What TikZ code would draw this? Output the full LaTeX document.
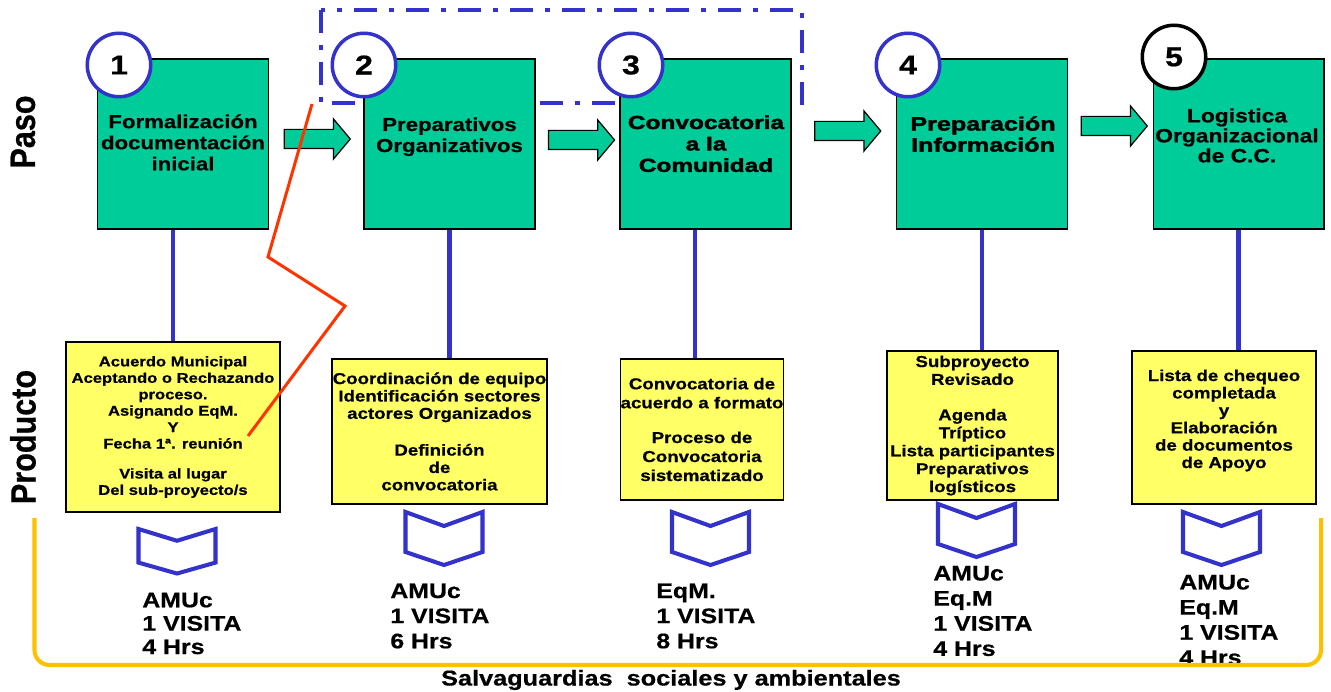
\documentclass[tikz,border=0pt]{standalone}
\usepackage{fontspec}
\setmainfont{Liberation Sans}[FakeStretch=1.18, BoldFeatures={FakeBold=0.6}]
\newfontfamily\heavyfont{Liberation Sans}[FakeStretch=1.3, BoldFeatures={FakeBold=2.2}]
\newfontfamily\sidefont{Liberation Sans}[FakeStretch=0.87, BoldFeatures={FakeBold=0.6}]
\usepackage{xcolor}
\definecolor{stepgreen}{RGB}{0,204,153}
\definecolor{prodyellow}{RGB}{255,255,102}
\definecolor{linkblue}{RGB}{51,51,204}
\definecolor{markred}{RGB}{255,51,0}
\definecolor{bracegold}{RGB}{255,192,0}
\usepackage{tikz}
\usetikzlibrary{arrows.meta, calc, shapes.arrows}

\tikzset{
  stepbox/.style={draw=black, line width=0.6pt, fill=stepgreen,
    minimum width=3.42cm, minimum height=3.4cm, inner sep=0pt},
  steptext/.style={anchor=north, align=center, inner sep=0pt,
    font=\fontsize{10.7}{12}\selectfont\bfseries},
  stepnum/.style={circle, draw=linkblue, line width=2pt, fill=white,
    minimum size=1.27cm, inner sep=0pt, font=\fontsize{15.5}{15.5}\selectfont\bfseries},
  prodbox/.style={draw=black, line width=0.9pt, fill=prodyellow, align=center,
    inner sep=0pt, font=\fontsize{9}{10.2}\selectfont\bfseries},
  flowarrow/.style={single arrow, draw=black, line width=0.7pt, fill=stepgreen,
    minimum height=1.32cm, inner xsep=0pt, inner ysep=0.18cm,
    single arrow head extend=0.21cm, single arrow tip angle=100},
  link/.style={draw=linkblue, line width=2.6pt},
  chevline/.style={draw=linkblue, line width=2.3pt, line join=miter},
  costtext/.style={anchor=west, align=left, inner sep=0pt,
    font=\fontsize{12}{14.3}\selectfont\bfseries},
  sidelabel/.style={rotate=90, inner sep=0pt, font=\fontsize{20}{20}\sidefont\bfseries},
  chevron/.pic={
    \draw[chevline] (-38.5,0) -- (-38.5,40) -- (0,53) -- (38.5,40) -- (38.5,0) -- (0,14) -- cycle;
  }
}

\begin{document}
\begin{tikzpicture}[x=0.02cm, y=-0.02cm]
  \useasboundingbox (0,0) rectangle (1331,692);
  % frame round steps 2 and 3
  \draw[linkblue, line width=1.8pt, dash pattern=on 0.46cm off 0.24cm on 0.1cm off 0.24cm]
    (321,10) rectangle (802,103);

  % steps
  \node[stepbox] (s1) at (183,144) {};
  \node[stepbox] (s2) at (449.5,144) {};
  \node[stepbox] (s3) at (705.5,144) {};
  \node[stepbox] (s4) at (982,144) {};
  \node[stepbox] (s5) at (1238.5,144) {};
  \node[steptext] at (183,114) {Formalización\\documentación\\inicial};
  \node[steptext] at (449.5,117) {Preparativos\\Organizativos};
  \node[steptext, font=\fontsize{10.7}{12.2}\heavyfont\bfseries] at (706,115)
    {Convocatoria\\a la\\Comunidad};
  \node[steptext, font=\fontsize{11}{12}\heavyfont\bfseries] at (983,116)
    {Preparación\\Información};
  \node[steptext, font=\fontsize{11}{11.4}\selectfont\bfseries] at (1237,108)
    {Logistica\\Organizacional\\de C.C.};

  \node[stepnum] (n1) at (119,65) {1};
  \node[stepnum] (n2) at (364,65) {2};
  \node[stepnum] (n3) at (631,65) {3};
  \node[stepnum] (n4) at (908,65) {4};
  \node[stepnum, draw=black] (n5) at (1174,57) {5};

  \node[flowarrow] (a1) at ($(s1.east)!0.5!(s2.west)+(-3,-5)$) {};
  \node[flowarrow] (a2) at ($(s2.east)!0.5!(s3.west)+(0,-4)$) {};
  \node[flowarrow] (a3) at ($(s3.east)!0.5!(s4.west)+(0,-13)$) {};
  \node[flowarrow] (a4) at ($(s4.east)!0.5!(s5.west)+(0,-18)$) {};

  % products
  \node[prodbox, font=\fontsize{8}{9.35}\selectfont\bfseries,
    minimum width=4.28cm, minimum height=3.4cm] (p1) at (173,427)
    {Acuerdo Municipal\\Aceptando o Rechazando\\proceso.\\Asignando EqM.\\Y\\Fecha 1ª. reunión\\[7.7pt]Visita al lugar\\Del sub-proyecto/s};
  \node[prodbox, font=\fontsize{9}{9.9}\selectfont\bfseries,
    minimum width=4.3cm, minimum height=2.9cm] (p2) at (439.5,431.5)
    {Coordinación de equipo\\Identificación sectores\\actores Organizados\\[11pt]Definición\\de\\convocatoria};
  \node[prodbox, font=\fontsize{9}{10.8}\selectfont\bfseries,
    minimum width=3.24cm, minimum height=2.82cm] (p3) at (702,429.5)
    {Convocatoria de\\acuerdo a formato\\[9pt]Proceso de\\Convocatoria\\sistematizado};
  \node[prodbox, minimum width=3.42cm, minimum height=2.98cm] (p4) at (972.5,425.5)
    {Subproyecto\\Revisado\\[10pt]Agenda\\Tríptico\\Lista participantes\\Preparativos\\logísticos};
  \node[prodbox, font=\fontsize{9}{9.9}\selectfont\bfseries,
    minimum width=3.68cm, minimum height=3.06cm] (p5) at (1224,427.5)
    {Lista de chequeo\\completada\\y\\Elaboración\\de documentos\\de Apoyo\\\mbox{}};

  \draw[link] (p1.north) -- (p1.north |- s1.south);
  \draw[link] (s2.south) -- (s2.south |- p2.north);
  \draw[link] ([xshift=-0.21cm]s3.south) -- ([xshift=-0.21cm]s3.south |- p3.north);
  \draw[link] (s4.south) -- (s4.south |- p4.north);
  \draw[link] (s5.south) -- (s5.south |- p5.north);

  \pic[yscale=0.84] at (177,529) {chevron};
  \pic at (444,512) {chevron};
  \pic at (710.5,512) {chevron};
  \pic at (976.5,504) {chevron};
  \pic at (1221.5,512) {chevron};

  \node[costtext, font=\fontsize{12}{13.3}\selectfont\bfseries] (c1) at (142,623.5)
    {AMUc\\1 VISITA\\4 Hrs};
  \node[costtext] (c2) at (390,616) {AMUc\\1 VISITA\\6 Hrs};
  \node[costtext] (c3) at (656,616) {EqM.\\1 VISITA\\8 Hrs};
  \node[costtext] (c4) at (933,611) {AMUc\\Eq.M\\1 VISITA\\4 Hrs};
  \node[costtext] (c5) at (1179,620) {AMUc\\Eq.M\\1 VISITA\\4 Hrs};

  % bracket and side labels
  \draw[bracegold, line width=2.3pt, rounded corners=0.3cm]
    (34.5,518) -- (34.5,665) -- (1321,665) -- (1321,518);
  \node[font=\fontsize{12.2}{14}\selectfont\bfseries, inner sep=0pt] (salv) at (671,680)
    {Salvaguardias~ sociales y ambientales};
  \node[sidelabel] (paso) at (23,132) {Paso};
  \node[sidelabel] (producto) at (23,437) {Producto};

  \draw[markred, line width=1.7pt] (312,104) -- (268,257) -- (345,306) -- (248,436);
\end{tikzpicture}
\end{document}
